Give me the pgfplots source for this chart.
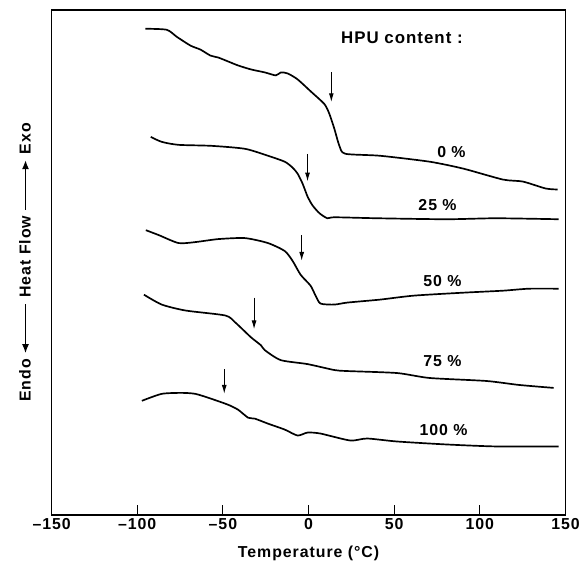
\documentclass[border=0pt]{standalone}
\usepackage{fontspec}
\setmainfont{Liberation Sans}[LetterSpace=6]
\usepackage{pgfplots}
\pgfplotsset{compat=1.18}
\usetikzlibrary{arrows.meta}
\newcommand{\harr}[1]{\tikz[baseline=-0.6ex]\draw[line width=1.4pt,#1](0,0)--(50pt,0);}
\begin{document}
\begin{tikzpicture}[font=\fontsize{16}{19}\selectfont\bfseries]
\begin{axis}[
  name=ax,
  scale only axis, width=518pt, height=509pt,
  xmin=-150, xmax=150, ymin=0, ymax=509,
  xtick={-150,-100,-50,0,50,100,150},
  xticklabels={--150,--100,--50,0,50,100,150},
  ytick=\empty,
  xtick pos=bottom, tick align=inside, major tick length=10pt,
  axis line style={line width=1.6pt},
  every tick/.style={line width=1.2pt, black},
  tick label style={font=\fontsize{16}{19}\selectfont\bfseries},
  label style={font=\fontsize{16}{19}\selectfont\bfseries},
  xlabel={Temperature (°C)},
  xlabel style={at={(axis description cs:0.5,-0.0766)}, anchor=center},
  ylabel={Endo \harr{{Latex[length=9pt,width=7pt]}-} Heat Flow \harr{-{Latex[length=9pt,width=7pt]}} Exo},
  ylabel style={at={(axis description cs:-0.052,0.5)}, anchor=center},
  clip=false,
]
% 0 %
\addplot[black, line width=1.7pt, smooth, tension=0.4] coordinates {
(-95.2,490) (-82.8,489) (-77.0,482) (-68.9,473) (-63.1,469) (-57.3,463) (-52.7,461)
(-46.9,457) (-41.1,453) (-33.6,449) (-25.5,446) (-19.1,443) (-16.2,446) (-12.2,445)
(-6.4,439) (1.2,427) (9.3,414) (12.2,404) (15.1,389) (18.0,372) (21.4,364)
(41.7,362) (70.7,356) (90.4,349) (113.5,338) (125.1,336) (138.4,329) (145.4,328)};
% 25 %
\addplot[black, line width=1.7pt, smooth, tension=0.4] coordinates {
(-92.1,381) (-85.7,376) (-75.9,373) (-56.7,372) (-37.1,369) (-23.7,362) (-13.9,356)
(-9.3,350) (-6.4,344) (-3.5,334) (-0.6,321) (2.3,312) (6.4,304) (11.0,299) (15.1,300)
(40.0,299) (80.5,298) (109.5,299) (146.0,298)};
% 50 %
\addplot[black, line width=1.7pt, smooth, tension=0.4] coordinates {
(-95.0,287) (-87.4,282) (-75.9,274) (-66.0,275) (-52.7,278) (-37.1,279) (-23.7,274)
(-13.9,266) (-9.3,256) (-4.6,242) (1.2,231) (4.1,221) (7.0,213) (15.1,212) (22.6,214)
(41.7,217) (61.4,221) (90.4,224) (113.5,226) (128.6,228) (146.0,228)};
% 75 %
\addplot[black, line width=1.7pt, smooth, tension=0.4] coordinates {
(-96.1,222) (-85.7,212) (-71.8,206) (-48.6,201) (-42.8,194) (-33.6,179) (-27.8,171)
(-25.5,166) (-16.2,156) (-0.6,152) (15.1,146) (22.6,145) (51.6,143) (70.7,138)
(103.7,135) (122.8,131) (143.1,128)};
% 100 %
\addplot[black, line width=1.7pt, smooth, tension=0.4] coordinates {
(-97.3,115) (-85.7,122) (-74.1,123) (-66.0,122) (-56.7,117) (-46.9,111) (-41.1,106)
(-35.3,98) (-31.3,97) (-23.7,92) (-13.9,86) (-6.4,80) (-0.6,83) (7.0,82) (24.3,75)
(34.2,77) (51.6,74) (80.5,71) (109.5,69) (146.0,69)};
% arrows
\addplot[black, line width=1.1pt, -{Latex[length=9pt,width=5pt]}] coordinates {(13.3,446) (13.3,416)};
\addplot[black, line width=1.1pt, -{Latex[length=9pt,width=5pt]}] coordinates {(-0.6,364) (-0.6,336)};
\addplot[black, line width=1.1pt, -{Latex[length=9pt,width=5pt]}] coordinates {(-4.0,282) (-4.0,256)};
\addplot[black, line width=1.1pt, -{Latex[length=9pt,width=5pt]}] coordinates {(-31.8,219) (-31.8,187)};
\addplot[black, line width=1.1pt, -{Latex[length=9pt,width=5pt]}] coordinates {(-49.2,147) (-49.2,122)};
% labels
\node[font=\fontsize{17}{20}\selectfont\bfseries] at (axis cs:54.5,481) {HPU content :};
\node at (axis cs:83.4,366) {0 \%};
\node at (axis cs:75.3,312) {25 \%};
\node at (axis cs:78.2,236) {50 \%};
\node at (axis cs:78.2,155) {75 \%};
\node at (axis cs:78.8,86) {100 \%};
\end{axis}
\path ([shift={(-52pt,-58pt)}]ax.south west) rectangle ([shift={(13pt,10pt)}]ax.north east);
\end{tikzpicture}
\end{document}
